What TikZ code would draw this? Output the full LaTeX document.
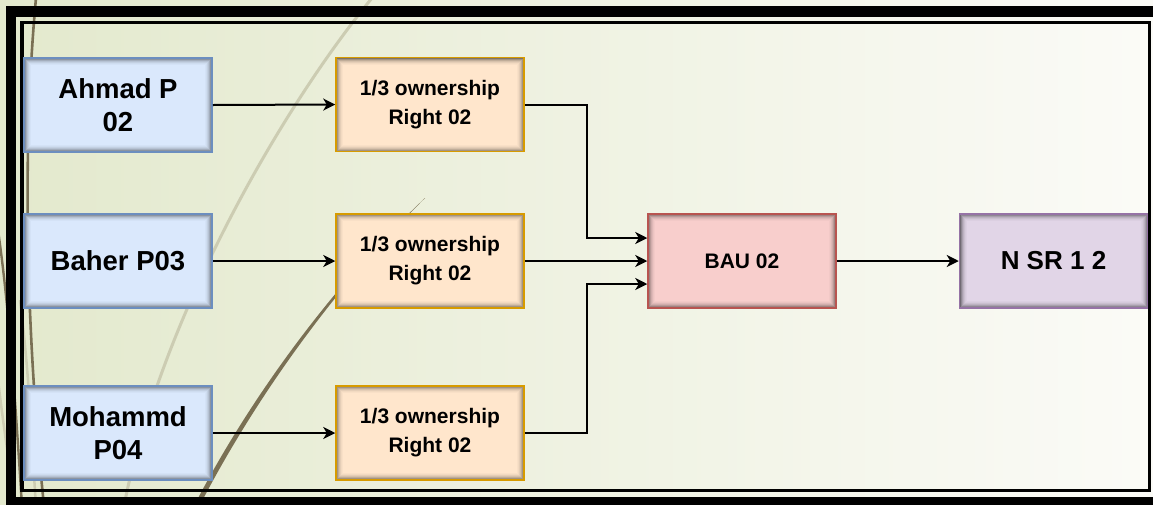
\documentclass[tikz,border=0pt]{standalone}
\usepackage{fontspec}
\setmainfont{Liberation Sans}
\usetikzlibrary{arrows.meta,calc}

\definecolor{bgleft}{RGB}{227,233,205}
\definecolor{bgright}{RGB}{251,251,247}
\definecolor{wispdark}{RGB}{122,112,84}
\definecolor{wisplight}{RGB}{204,204,178}
\definecolor{bluefill}{HTML}{DAE8FC}
\definecolor{bluedraw}{HTML}{6C8EBF}
\definecolor{orangefill}{HTML}{FFE6CC}
\definecolor{orangedraw}{HTML}{D79B00}
\definecolor{redfill}{HTML}{F8CECC}
\definecolor{reddraw}{HTML}{B85450}
\definecolor{purplefill}{HTML}{E1D5E7}
\definecolor{purpledraw}{HTML}{9673A6}

\tikzset{
  innershade/.style={
    path picture={
      \foreach \i/\o in {1/0.50,2/0.36,3/0.25,4/0.16,5/0.10,6/0.05,7/0.025}{
        \draw[black, opacity=\o, line width=1pt]
          ([shift={(\i pt-0.5pt,-\i pt+0.5pt)}]path picture bounding box.north west)
          rectangle
          ([shift={(-\i pt+0.5pt,\i pt-0.5pt)}]path picture bounding box.south east);
      }
    }
  },
  box/.style={draw, line width=1.5pt, innershade, minimum width=188pt,
    minimum height=94pt, inner sep=0pt, align=center, text=black},
  person/.style={box, fill=bluefill, draw=bluedraw,
    font=\fontsize{27.5pt}{33pt}\selectfont\bfseries},
  share/.style={box, fill=orangefill, draw=orangedraw,
    font=\fontsize{21pt}{29pt}\selectfont\bfseries},
  unit/.style={box, fill=redfill, draw=reddraw,
    font=\fontsize{21pt}{25pt}\selectfont\bfseries},
  result/.style={box, fill=purplefill, draw=purpledraw,
    font=\fontsize{26pt}{30pt}\selectfont\bfseries},
  arr/.style={draw=black, line width=2pt,
    -{Stealth[length=12pt,width=12pt,inset=3.5pt]}},
}

\begin{document}
\begin{tikzpicture}[x=1pt,y=-1pt]
  \useasboundingbox (0,0) rectangle (1153,504);
  \clip (0,0) rectangle (1153,504);

  % backdrop
  \shade[left color=bgleft, right color=bgright] (0,0) rectangle (1153,504);

  % decorative wisps
  \draw[wisplight, line width=3pt, line cap=round]
    (372,-2) .. controls (280,110) and (160,320) .. (124,506);
  \fill[wispdark]
    (194,506) .. controls (238,420) and (318,299) .. (425,198)
    .. controls (320,302) and (243,421) .. (199.5,506) -- cycle;
  \draw[wispdark, line width=2.6pt]
    (36,-2) .. controls (22,150) and (26,330) .. (44,506);
  \draw[wispdark, line width=2.4pt]
    (-2,230) .. controls (8,300) and (14,380) .. (22,506);
  \draw[wisplight, line width=2.5pt]
    (-2,380) .. controls (4,430) and (10,470) .. (16,506);
  \draw[wisplight, line width=2.5pt]
    (20,300) .. controls (30,380) and (32,450) .. (36,506);

  % double frame
  \draw[black, line width=10.5pt] (11,11.5) rectangle (1170,502);
  \draw[black, line width=3.2pt] (22,22.4) rectangle (1149.5,490.6);

  % owners
  \node[person] (a1) at (118,105) {Ahmad P\\02};
  \node[person] (a2) at (118,261) {Baher P03};
  \node[person] (a3) at (118,433) {Mohammd\\P04};

  % ownership shares
  \node[share] (o1) at (430,104.5) {1/3 ownership\\Right 02};
  \node[share] (o2) at (430,261) {1/3 ownership\\Right 02};
  \node[share] (o3) at (430,433) {1/3 ownership\\Right 02};

  % unit and result
  \node[unit] (bau) at (742,261) {BAU 02};
  \node[result] (nsr) at (1053.5,261) {N SR 1 2};

  % connectors
  \draw[arr] (a1.east) -- (o1.west);
  \draw[arr] (a2.east) -- (o2.west);
  \draw[arr] (a3.east) -- (o3.west);
  \draw[arr] (o1.east) -- ++(62,0) |- ([yshift=23pt]bau.west);
  \draw[arr] (o2.east) -- (bau.west);
  \draw[arr] (o3.east) -- ++(62,0) |- ([yshift=-23pt]bau.west);
  \draw[arr] (bau.east) -- (nsr.west);
\end{tikzpicture}
\end{document}
